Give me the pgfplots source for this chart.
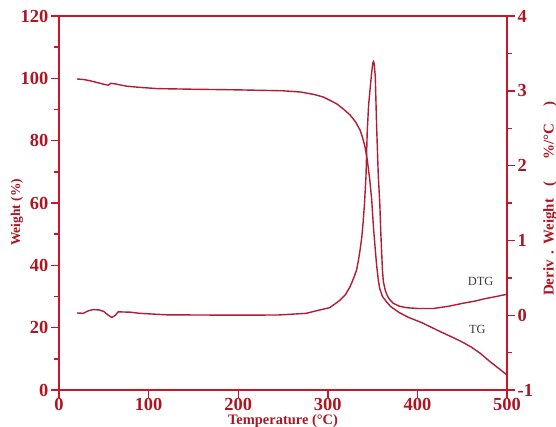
\documentclass[border=0pt]{standalone}
\usepackage{pgfplots}
\pgfplotsset{compat=1.18}
\usepackage{fontspec}
\setmainfont{Liberation Serif}
\definecolor{axred}{RGB}{200,22,44}
\definecolor{curvered}{RGB}{178,28,52}
\definecolor{lblred}{RGB}{172,22,34}
\definecolor{txtgray}{RGB}{60,60,60}
\pgfplotsset{
  common/.style={
    scale only axis, width=448bp, height=374bp,
    xmin=0, xmax=500,
    tick align=outside,
    major tick length=8bp, minor tick length=5bp,
    axis line style={axred, line width=1.8bp},
    every tick/.style={axred, line width=1.4bp},
    tick label style={font=\fontsize{18.5}{18.5}\selectfont\bfseries, text=lblred, inner sep=2.5bp},
    /pgf/number format/assume math mode=true,
    label style={font=\fontsize{13.5}{14}\selectfont\bfseries, text=lblred},
  }
}
\begin{document}
\begin{tikzpicture}
\useasboundingbox (-59bp,-37bp) rectangle (497bp,390bp);
\begin{axis}[common,
  ymin=0, ymax=120,
  xtick={0,100,...,500}, ytick={0,20,...,120},
  minor y tick num=1,
  xtick pos=bottom, ytick pos=left,
  xticklabel style={inner sep=0.5bp},
  xlabel={Temperature (°C)}, ylabel={Weight (\%)},
  xlabel style={at={(axis description cs:0.5,0)}, anchor=center, yshift=-31.5bp,
    font=\fontsize{14.5}{14.5}\selectfont\bfseries},
  ylabel style={at={(axis description cs:0,0.475)}, anchor=center, rotate=0, yshift=42bp},
]
\addplot[curvered, line width=1.4bp] coordinates {
(20,99.8) (28,99.6) (35,99.2) (42,98.7) (50,98.1) (55,97.8) (58,98.4) (63,98.2) (75,97.5)
(90,97.1) (110,96.7) (150,96.5) (200,96.3) (250,96.0) (270,95.6) (285,94.8) (295,94.0)
(302,93.0) (310,91.8) (318,90.0) (325,88.2) (331,86.0) (336,83.4) (339,80.8) (341.5,78)
(344,74) (347,67) (349,61) (351,52) (353,45) (354.5,40) (356.5,35) (358,32.5) (361,30)
(365,28.5) (370,26.8) (380,24.8) (390,23.3) (405,21.6) (425,18.8) (440,16.8) (450,15.4)
(460,13.8) (470,11.8) (481,9.1) (490,7.1) (500,4.8)
};
\node[font=\fontsize{12.5}{13}\selectfont, text=txtgray] at (axis cs:470.5,34.7) {DTG};
\node[font=\fontsize{12.5}{13}\selectfont, text=txtgray] at (axis cs:467,19.5) {TG};
\end{axis}
\begin{axis}[common,
  ymin=-1, ymax=4,
  axis y line*=right, axis x line=none,
  ytick={-1,0,...,4}, minor y tick num=1,
  ylabel={Deriv\hspace{6bp}.\hspace{6bp}Weight\hspace{12bp}(\hspace{22bp}\%/°C\hspace{18bp})},
  ylabel style={at={(axis description cs:1,0.512)}, anchor=center, rotate=0, yshift=-43bp,
    font=\fontsize{15}{15}\selectfont\bfseries},
]
\addplot[curvered, line width=1.4bp] coordinates {
(20,0.03) (27,0.025) (33,0.06) (38,0.075) (45,0.07) (50,0.05) (55,0.0) (59,-0.03)
(63,0.0) (66,0.045) (80,0.04) (90,0.025) (120,0.005) (200,0.0) (245,0.003) (276,0.025)
(291,0.07) (302,0.1) (313.6,0.2) (320,0.28) (324.8,0.38) (329,0.5) (332,0.6) (334,0.72)
(336,0.87) (338,1.05) (339.5,1.25) (341,1.5) (342.6,1.85) (344,2.45) (345.5,2.8)
(347,3.0) (349,3.25) (350.2,3.37) (351,3.39) (351.8,3.36) (353,3.19) (354.5,2.52)
(356.4,1.85) (358,1.5) (359,1.15) (360,0.87) (361,0.6) (362,0.45) (364,0.34) (366,0.27)
(369,0.21) (373,0.16) (380,0.12) (388,0.10) (400,0.09) (418,0.09) (435,0.12) (451,0.16)
(465,0.19) (475,0.22) (488,0.25) (500,0.28)
};
\end{axis}
\end{tikzpicture}
\end{document}
